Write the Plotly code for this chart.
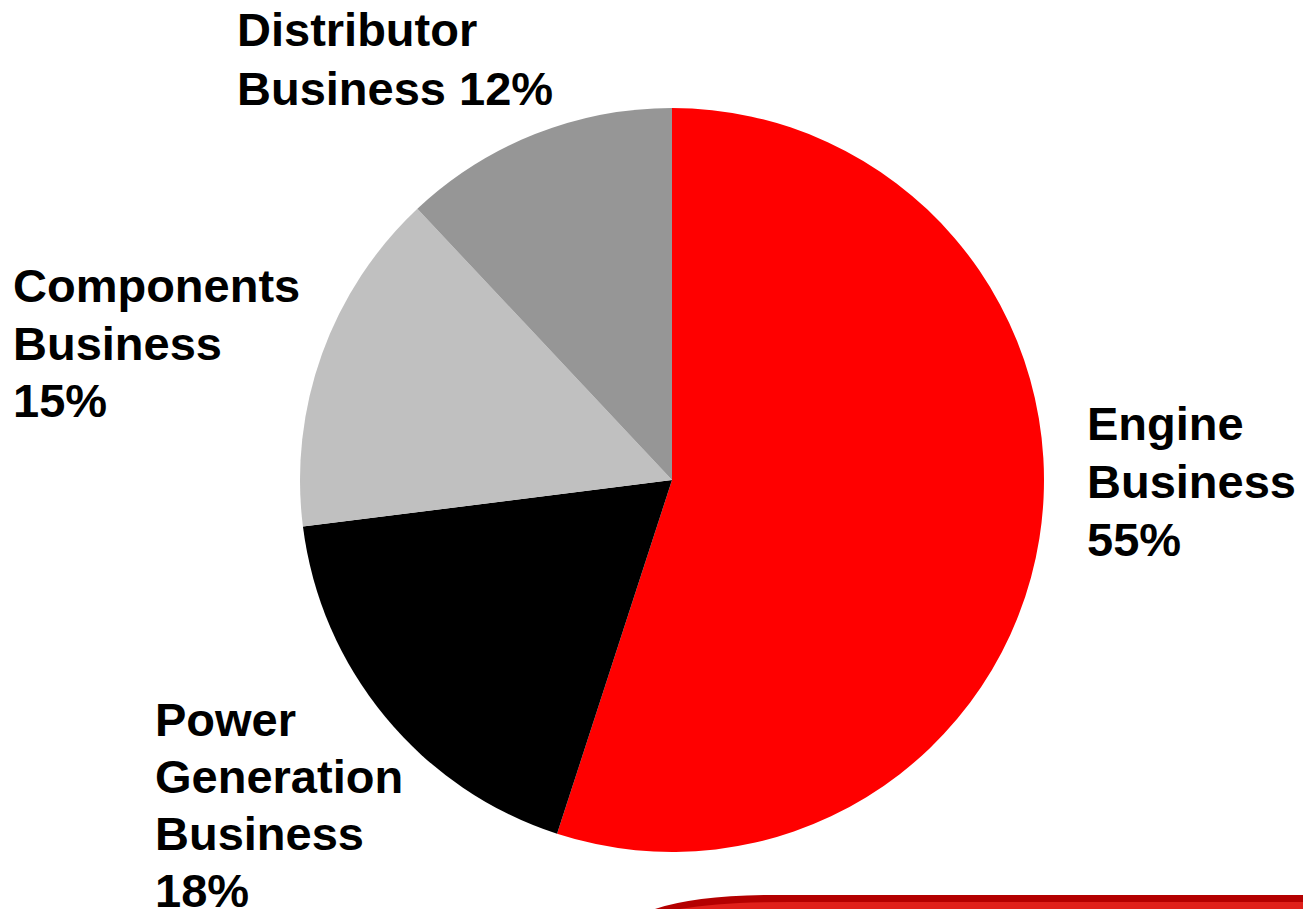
import plotly.graph_objects as go

W, H = 1303, 909

categories = ["Engine Business", "Power Generation Business", "Components Business", "Distributor Business"]
values = [55, 18, 15, 12]
colors = ["#FF0000", "#000000", "#C0C0C0", "#969696"]
label_lines = [
    ["Engine", "Business", "55%"],
    ["Power", "Generation", "Business", "18%"],
    ["Components", "Business", "15%"],
    ["Distributor", "Business 12%"],
]
# label position in pixels: (left x, cap-top y of first line, line step)
label_pos = [(1085, 405, 58), (153, 701, 57), (11, 267, 58), (235, 12, 58)]
FONT_SIZE = 47

def px(x):
    return x / W

def py(y):
    return 1 - y / H

cx, cy, r = 672, 480, 372

fig = go.Figure(go.Pie(
    labels=categories,
    values=values,
    marker=dict(colors=colors, line=dict(width=0)),
    sort=False,
    direction="clockwise",
    rotation=0,
    textinfo="none",
    hoverinfo="label+percent",
    showlegend=False,
    domain=dict(x=[px(cx - r), px(cx + r)], y=[py(cy + r), py(cy - r)]),
))

for lines, (x, y, step) in zip(label_lines, label_pos):
    for i, line in enumerate(lines):
        top = y + i * step - 10.5
        fig.add_annotation(
            text=f"<b>{line}</b>", x=px(x), y=py(top), xref="paper", yref="paper",
            xanchor="left", yanchor="top", align="left", showarrow=False,
            font=dict(family="Liberation Sans, Arial, sans-serif", size=FONT_SIZE, color="#000000"),
        )

# decorative red swoosh at bottom right
fig.add_shape(type="path", xref="paper", yref="paper",
              path=f"M {px(655)},{py(909)} Q {px(700)},{py(894)} {px(790)},{py(895)} L {px(1303)},{py(895)} L {px(1303)},{py(909)} Z",
              fillcolor="#B40000", line=dict(width=0))
fig.add_shape(type="path", xref="paper", yref="paper",
              path=f"M {px(680)},{py(909)} Q {px(720)},{py(902)} {px(790)},{py(902)} L {px(1303)},{py(902)} L {px(1303)},{py(909)} Z",
              fillcolor="#E0201A", line=dict(width=0))

fig.update_layout(
    width=W, height=H,
    margin=dict(l=0, r=0, t=0, b=0),
    paper_bgcolor="#FFFFFF",
    plot_bgcolor="#FFFFFF",
)

fig.write_html("out.html")
